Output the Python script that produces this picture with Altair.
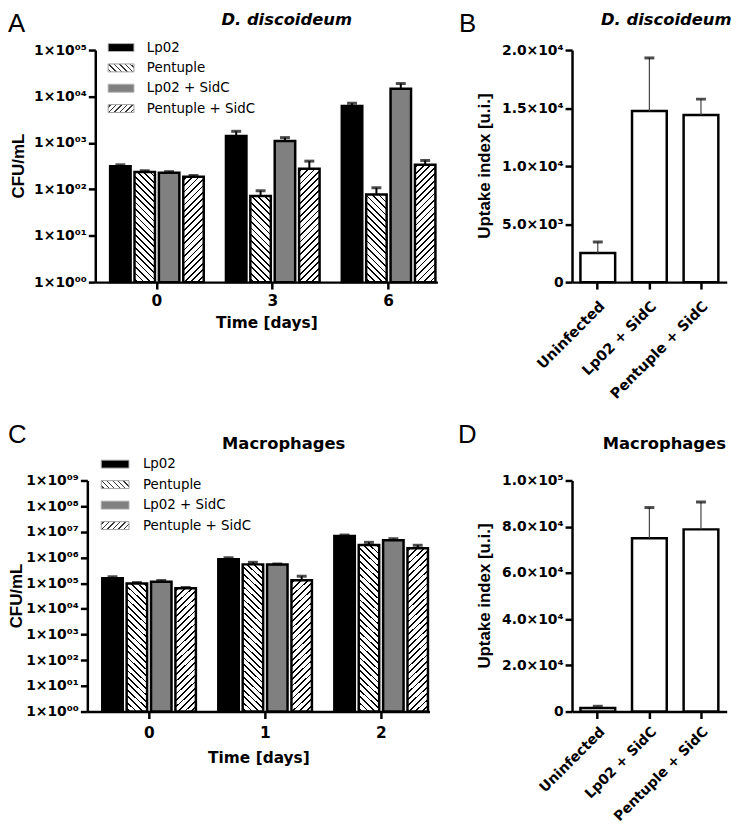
import json
import math
import altair as alt
import pandas as pd

# ---------------- data ----------------
SERIES = ["Lp02", "Pentuple", "Lp02 + SidC", "Pentuple + SidC"]
SOLID_SERIES = ["Lp02", "Lp02 + SidC"]
SOLID_COLORS = ["#000000", "#808080"]
HATCH_KIND = {"Pentuple": "\\", "Pentuple + SidC": "/"}

A_DAYS = ["0", "3", "6"]
A_LP02 = [312, 1404, 6270]
A_LP02_SEM = [25, 370, 850]
A_PENT = [236, 72, 77]
A_PENT_SEM = [15, 21, 31]
A_LP02_SIDC = [228, 1099, 14680]
A_LP02_SIDC_SEM = [12, 200, 4300]
A_PENT_SIDC = [187, 277, 337]
A_PENT_SIDC_SEM = [11, 127, 81]
A_TICK_LABELS = ["1×10⁰⁰", "1×10⁰¹", "1×10⁰²", "1×10⁰³", "1×10⁰⁴", "1×10⁰⁵"]

C_DAYS = ["0", "1", "2"]
C_LP02 = [1.57e5, 8.5e5, 6.9e6]
C_LP02_SEM = [2.1e4, 1.3e5, 6.0e5]
C_PENT = [9.8e4, 5.4e5, 3.1e6]
C_PENT_SEM = [8.0e3, 1.1e5, 8.0e5]
C_LP02_SIDC = [1.13e5, 5.3e5, 4.7e6]
C_LP02_SIDC_SEM = [1.4e4, 3.0e4, 7.0e5]
C_PENT_SIDC = [6.4e4, 1.31e5, 2.3e6]
C_PENT_SIDC_SEM = [4.0e3, 5.6e4, 7.0e5]
C_TICK_LABELS = ["1×10⁰⁰", "1×10⁰¹", "1×10⁰²", "1×10⁰³", "1×10⁰⁴",
                 "1×10⁰⁵", "1×10⁰⁶", "1×10⁰⁷", "1×10⁰⁸", "1×10⁰⁹"]

UPTAKE_GROUPS = ["Uninfected", "Lp02 + SidC", "Pentuple + SidC"]
B_UPTAKE = [2510, 14750, 14410]
B_UPTAKE_SEM = [950, 4570, 1360]
B_TICK_VALUES = [0, 5000, 10000, 15000, 20000]
B_TICK_LABELS = ["0", "5.0×10³", "1.0×10⁴", "1.5×10⁴", "2.0×10⁴"]

D_UPTAKE = [1590, 74980, 78840]
D_UPTAKE_SEM = [700, 13300, 11850]
D_TICK_VALUES = [0, 20000, 40000, 60000, 80000, 100000]
D_TICK_LABELS = ["0", "2.0×10⁴", "4.0×10⁴", "6.0×10⁴", "8.0×10⁴", "1.0×10⁵"]

# ---------------- style helpers ----------------
FONT_BOLD = "DejaVu Sans"
FONT_PLAIN = "Liberation Sans"


def axis_style(**kw):
    base = dict(domainColor="black", domainWidth=2.5, tickColor="black",
                tickWidth=2.5, tickSize=7, labelColor="black",
                labelFont=FONT_BOLD, labelFontWeight="bold", labelFontSize=14,
                grid=False, titleColor="black", labelOverlap=False)
    base.update(kw)
    return alt.Axis(**base)


def hatch(w, h, kind, period=6.5, lw=1.8, ink="#000000", bg="#ffffff"):
    """Linear gradient that draws 45-degree stripes on a w x h pixel box."""
    L = w + h
    k = L / (w * w + h * h)
    if kind == "/":
        x1, y1, x2, y2 = 0, 0, w * k, h * k
    else:
        x1, y1, x2, y2 = 0, 1, w * k, 1 - h * k
    stops = [{"offset": 0, "color": bg}]
    s = period / 2
    while s - lw / 2 < L:
        a = round(max(0.0, (s - lw / 2) / L), 5)
        b = round(min(1.0, (s + lw / 2) / L), 5)
        stops += [{"offset": a, "color": bg}, {"offset": a, "color": ink},
                  {"offset": b, "color": ink}, {"offset": b, "color": bg}]
        s += period
    stops.append({"offset": 1, "color": bg})
    return {"gradient": "linear", "x1": x1, "y1": y1, "x2": x2, "y2": y2,
            "stops": stops}


def text_layer(txt, x, y, size, weight="normal", style="normal",
               font=FONT_PLAIN, align="left", baseline="top", angle=0):
    return alt.Chart(pd.DataFrame({"t": [txt]})).mark_text(
        align=align, baseline=baseline, font=font, fontSize=size,
        fontWeight=weight, fontStyle=style, color="black", angle=angle
    ).encode(text="t:N", x=alt.value(x), y=alt.value(y))


def annotations(letter, letter_pos, title, title_pos, title_style, ytitle, ytitle_pos):
    return alt.layer(
        text_layer(letter, letter_pos[0], letter_pos[1], 26),
        text_layer(title, title_pos[0], title_pos[1], 16.5, weight="bold",
                   style=title_style, font=FONT_BOLD, align="center", baseline="middle"),
        text_layer(ytitle, ytitle_pos[0], ytitle_pos[1], 17, weight="bold",
                   font=FONT_PLAIN, align="center", baseline="middle", angle=270),
    )


def legend_layers(sw_x0, sw_x1, text_x, y_range, pad_inner, sw_h):
    ldf = pd.DataFrame({"series": SERIES})
    ly = alt.Y("series:N", sort=SERIES,
               scale=alt.Scale(domain=SERIES, range=y_range,
                               paddingInner=pad_inner, paddingOuter=0),
               axis=None)
    lb = alt.Chart(ldf).encode(y=ly)
    layers = [
        lb.transform_filter(alt.FieldOneOfPredicate(field="series", oneOf=SOLID_SERIES))
        .mark_rect(stroke="#b0b0b0", strokeWidth=1)
        .encode(x=alt.value(sw_x0), x2=alt.value(sw_x1),
                fill=alt.Fill("series:N", scale=alt.Scale(domain=SOLID_SERIES, range=SOLID_COLORS),
                              legend=None))
    ]
    for s, kind in HATCH_KIND.items():
        layers.append(
            lb.transform_filter(alt.datum.series == s)
            .mark_rect(fill=hatch(sw_x1 - sw_x0, sw_h, kind, period=5.5, lw=1.4, ink="#333333"),
                       stroke="#a0a0a0", strokeWidth=1)
            .encode(x=alt.value(sw_x0), x2=alt.value(sw_x1))
        )
    layers.append(
        lb.mark_text(align="left", baseline="middle", font=FONT_BOLD,
                     fontSize=13.5, color="black")
        .encode(x=alt.value(text_x), text="series:N")
    )
    return alt.layer(*layers)


def grouped_panel(days, means, sems, W, H, decades, tick_labels, pad,
                  legend, annot, label_pad, title_pad):
    rows = []
    for s, m_list, e_list in zip(SERIES, means, sems):
        for d, m, e in zip(days, m_list, e_list):
            rows.append({"day": d, "series": s, "mean": m, "upper": m + e, "base": 1})
    df = pd.DataFrame(rows)
    pi, po, al, spi = pad
    step = W / (len(days) - pi + 2 * po)
    band = step * (1 - pi)
    bar_w = band / (len(SERIES) - spi) * (1 - spi)
    px_per_dec = H / decades

    x = alt.X("day:N", sort=days,
              scale=alt.Scale(domain=days, paddingInner=pi, paddingOuter=po, align=al),
              axis=axis_style(title="Time [days]", labelAngle=0, labelPadding=label_pad,
                              labelFontSize=15.5, titleFont=FONT_BOLD,
                              titleFontSize=15.5, titleFontWeight="bold",
                              titlePadding=title_pad))
    xo = alt.XOffset("series:N", sort=SERIES,
                     scale=alt.Scale(domain=SERIES, paddingInner=spi, paddingOuter=0))
    ticks = [10 ** i for i in range(decades + 1)]
    yscale = alt.Scale(type="log", domain=[1, 10 ** decades])
    yaxis = axis_style(values=ticks,
                       labelExpr=json.dumps(tick_labels, ensure_ascii=False)
                       + "[round(log(datum.value)/LN10)]",
                       title=None, labelPadding=2)

    def Y(field):
        return alt.Y(field, scale=yscale, axis=yaxis)

    base = alt.Chart(df).encode(x=x, xOffset=xo)
    layers = [
        base.transform_filter(alt.FieldOneOfPredicate(field="series", oneOf=SOLID_SERIES))
        .mark_bar(stroke="black", strokeWidth=2.5)
        .encode(y=Y("mean:Q"), y2="base:Q",
                fill=alt.Fill("series:N", scale=alt.Scale(domain=SOLID_SERIES, range=SOLID_COLORS),
                              legend=None))
    ]
    for s, kind in HATCH_KIND.items():
        m_list = means[SERIES.index(s)]
        for d, m in zip(days, m_list):
            h = px_per_dec * math.log10(m)
            layers.append(
                base.transform_filter((alt.datum.series == s) & (alt.datum.day == d))
                .mark_bar(fill=hatch(bar_w, h, kind), stroke="black", strokeWidth=2.5)
                .encode(y=Y("mean:Q"), y2="base:Q")
            )
    layers.append(base.mark_rule(color="black", strokeWidth=2)
                  .encode(y=Y("mean:Q"), y2="upper:Q"))
    layers.append(base.mark_tick(color="black", thickness=3, size=10)
                  .encode(y=Y("upper:Q")))
    main = alt.layer(*layers)
    return alt.layer(main, legend, annot).resolve_scale(y="independent").properties(
        width=W, height=H)


def uptake_panel(means, sems, W, H, tick_values, tick_labels, annot, label_pad, label_size):
    upper = [m + e for m, e in zip(means, sems)]
    df = pd.DataFrame({"group": UPTAKE_GROUPS, "mean": means, "upper": upper})
    x = alt.X("group:N", sort=UPTAKE_GROUPS,
              scale=alt.Scale(domain=UPTAKE_GROUPS, paddingInner=0.327, paddingOuter=0.163),
              axis=axis_style(title=None, labelAngle=-45, labelAlign="right",
                              labelBaseline="top", labelPadding=label_pad,
                              labelFontSize=label_size))
    yscale = alt.Scale(domain=[tick_values[0], tick_values[-1]], nice=False)
    yaxis = axis_style(values=tick_values,
                       labelExpr=json.dumps(tick_labels, ensure_ascii=False)
                       + f"[round(datum.value/{tick_values[1]})]",
                       title=None, labelPadding=2)

    def Y(field):
        return alt.Y(field, scale=yscale, axis=yaxis)

    base = alt.Chart(df).encode(x=x)
    bars = base.mark_bar(fill="white", stroke="black", strokeWidth=2.5).encode(y=Y("mean:Q"))
    stems = base.mark_rule(color="#444444", strokeWidth=1.2).encode(y=Y("mean:Q"), y2="upper:Q")
    caps = base.mark_tick(color="black", thickness=3, size=10).encode(y=Y("upper:Q"))
    return alt.layer(bars, stems, caps, annot).properties(width=W, height=H)


panel_a = grouped_panel(
    A_DAYS, [A_LP02, A_PENT, A_LP02_SIDC, A_PENT_SIDC],
    [A_LP02_SEM, A_PENT_SEM, A_LP02_SIDC_SEM, A_PENT_SIDC_SEM],
    W=345, H=234, decades=5, tick_labels=A_TICK_LABELS,
    pad=(0.1918, 0.0728, 0.88, 0.16),
    legend=legend_layers(13, 39, 52, [-6.5, 63.0], 0.61, 8),
    annot=annotations("A", (-88, -39), "D. discoideum", (193, -30), "italic",
                      "CFU/mL", (-77, 117)),
    label_pad=5, title_pad=6)

panel_b = uptake_panel(
    B_UPTAKE, B_UPTAKE_SEM, W=156, H=234, tick_values=B_TICK_VALUES,
    tick_labels=B_TICK_LABELS,
    annot=annotations("B", (-114, -39), "D. discoideum", (95, -30), "italic",
                      "Uptake index [u.i.]", (-88, 117)),
    label_pad=10, label_size=14.5)

panel_c = grouped_panel(
    C_DAYS, [C_LP02, C_PENT, C_LP02_SIDC, C_PENT_SIDC],
    [C_LP02_SEM, C_PENT_SEM, C_LP02_SIDC_SEM, C_PENT_SIDC_SEM],
    W=345, H=233, decades=9, tick_labels=C_TICK_LABELS,
    pad=(0.188, 0.0684, 0.94, 0.2),
    legend=legend_layers(14, 42, 56, [-20.5, 49.5], 0.613, 8),
    annot=annotations("C", (-80, -59), "Macrophages", (198, -37), "normal",
                      "CFU/mL", (-71, 116.5)),
    label_pad=7, title_pad=10)

panel_d = uptake_panel(
    D_UPTAKE, D_UPTAKE_SEM, W=156, H=233, tick_values=D_TICK_VALUES,
    tick_labels=D_TICK_LABELS,
    annot=annotations("D", (-115, -59), "Macrophages", (93, -37), "normal",
                      "Uptake index [u.i.]", (-88, 116.5)),
    label_pad=6, label_size=14)

# an empty 1px cell that indents the first row's panels relative to the second row
spacer = alt.Chart(pd.DataFrame({"v": [0]})).mark_point(opacity=0, size=1).encode(
    x=alt.value(0), y=alt.value(0)).properties(width=1, height=1)

row1 = alt.hconcat(
    spacer,
    alt.hconcat(panel_a, panel_b, spacing=135.7, bounds="flush"),
    spacing=7, bounds="flush")
row2 = alt.hconcat(panel_c, panel_d, spacing=143.7, bounds="flush")

chart = alt.vconcat(row1, row2, spacing=21).properties(padding=0).configure_view(stroke=None)

chart.save("out.html", embed_options={"renderer": "svg", "actions": False})
